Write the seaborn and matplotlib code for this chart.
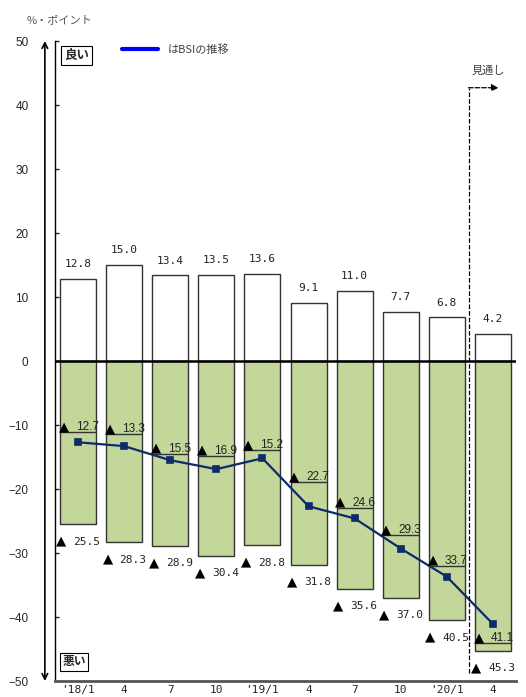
import numpy as np
import pandas as pd
import seaborn as sns
import matplotlib.pyplot as plt
from matplotlib.lines import Line2D

# quarterly survey data (% points)
periods = ['2018-1', '2018-4', '2018-7', '2018-10', '2019-1',
           '2019-4', '2019-7', '2019-10', '2020-1', '2020-4']
tick_labels = ["'18/1", '4', '7', '10', "'19/1", '4', '7', '10', "'20/1", '4']
good = [12.8, 15.0, 13.4, 13.5, 13.6, 9.1, 11.0, 7.7, 6.8, 4.2]
bad = [-25.5, -28.3, -28.9, -30.4, -28.8, -31.8, -35.6, -37.0, -40.5, -45.3]
bsi = [-12.7, -13.3, -15.5, -16.9, -15.2, -22.7, -24.6, -29.3, -33.7, -41.1]
# where the BSI value labels sit (underline height)
bsi_label_y = [-11.1, -11.4, -14.5, -14.8, -13.9, -18.9, -22.9, -27.2, -32.0, -44.1]

df = pd.DataFrame({'period': periods, 'good': good, 'bad': bad, 'bsi': bsi})

sns.set_style('white')
plt.rcParams['font.family'] = ['Noto Sans CJK JP', 'DejaVu Sans']

fig = plt.figure(figsize=(5.26, 6.97), dpi=100)
ax = fig.add_axes([55/526, 1-681/697, 461/526, 640/697])

bar_w = 0.78
sns.barplot(data=df, x='period', y='good', color='white', saturation=1,
            edgecolor='#333333', linewidth=1, width=bar_w, errorbar=None, ax=ax)
sns.barplot(data=df, x='period', y='bad', color='#c4d79b', saturation=1,
            edgecolor='#333333', linewidth=1, width=bar_w, errorbar=None, ax=ax)
ax.axhline(0, color='black', lw=1.8, zorder=3)
sns.pointplot(data=df, x='period', y='bsi', color='#0d2a6b', markers='s',
              markersize=4.5, linewidth=1.6, errorbar=None, ax=ax)

mono = ['DejaVu Sans Mono', 'DejaVu Sans']
sans = ['Liberation Sans', 'DejaVu Sans']
gap = 0.37  # triangle -> number distance
for i in range(len(periods)):
    ax.text(i, good[i] + 2.3, f'{good[i]:.1f}', ha='center', va='center',
            fontsize=8, family=mono, color='#222222')
    # lower ("bad") labels
    yb = bad[i] - 3.2
    ax.text(i - 0.47, yb, '▲', ha='left', va='baseline',
            fontsize=9.5, family='DejaVu Sans', color='black')
    ax.text(i - 0.47 + gap, yb, f'{-bad[i]:.1f}', ha='left', va='baseline',
            fontsize=8, family=mono, color='#222222')
    # BSI labels
    ax.hlines(bsi_label_y[i], i - bar_w/2, i + bar_w/2, color='#333333', lw=1, zorder=4)
    ax.text(i - 0.42, bsi_label_y[i] + 0.3, '▲', ha='left', va='baseline',
            fontsize=9.5, family='DejaVu Sans', color='black', zorder=4)
    ax.text(i - 0.42 + gap, bsi_label_y[i] + 0.3, f'{-bsi[i]:.1f}', ha='left',
            va='baseline', fontsize=8.5, family=sans, color='#222222', zorder=4)

ax.set_xlim(-0.5, 9.5)
ax.set_ylim(-50, 50)
ax.set_yticks(range(-50, 51, 10))
ax.set_xticks(range(len(periods)))
ax.set_xticklabels(tick_labels, family=mono)
ax.set_xlabel('')
ax.set_ylabel('')
ax.tick_params(axis='y', direction='in', length=3, width=1, pad=19, labelsize=8.5, left=True)
ax.tick_params(axis='x', length=0, pad=3, labelsize=8)
for lab in ax.get_yticklabels():
    lab.set_family(sans)

sns.despine(ax=ax)
ax.spines['left'].set_color('black')
ax.spines['left'].set_linewidth(1)
ax.spines['bottom'].set_color('#555555')
ax.spines['bottom'].set_linewidth(2)

# double arrow along the y axis
ax.annotate('', xy=(-0.022, 50), xytext=(-0.022, -50),
            xycoords=ax.get_yaxis_transform(), textcoords=ax.get_yaxis_transform(),
            arrowprops=dict(arrowstyle='<->', lw=1.2, color='black', shrinkA=0, shrinkB=0),
            annotation_clip=False)

ax.text(0.046, 0.977, '良い', transform=ax.transAxes, ha='center', va='center',
        fontsize=9, fontweight='bold',
        bbox=dict(boxstyle='square,pad=0.25', fc='white', ec='black', lw=0.8))
ax.text(0.041, 0.030, '悪い', transform=ax.transAxes, ha='center', va='center',
        fontsize=8.5, fontweight='bold',
        bbox=dict(boxstyle='square,pad=0.2', fc='white', ec='black', lw=0.8))

# forecast marker
ax.plot([8.47, 8.47], [-48.8, 42.7], ls='--', color='black', lw=0.9, clip_on=False)
ax.annotate('', xy=(9.12, 42.7), xytext=(8.47, 42.7),
            arrowprops=dict(arrowstyle='-|>', ls='--', lw=0.9, color='black',
                            shrinkA=0, shrinkB=0), annotation_clip=False)
ax.text(8.9, 45.4, '見通し', ha='center', va='center', fontsize=8, color='#404040')

ax.legend(handles=[Line2D([], [], color='blue', lw=3)], labels=['はBSIの推移'],
          loc='center left', bbox_to_anchor=(122/526, 1-50/697), bbox_transform=fig.transFigure,
          frameon=False, borderpad=0, borderaxespad=0, handlelength=3.2, handletextpad=0.9,
          prop={'size': 8}, labelcolor='#404040')

fig.text(27/526, 1-20/697, '%・ポイント', ha='left', va='center', fontsize=8, color='#555555')

fig.savefig('out.png', dpi=100)
